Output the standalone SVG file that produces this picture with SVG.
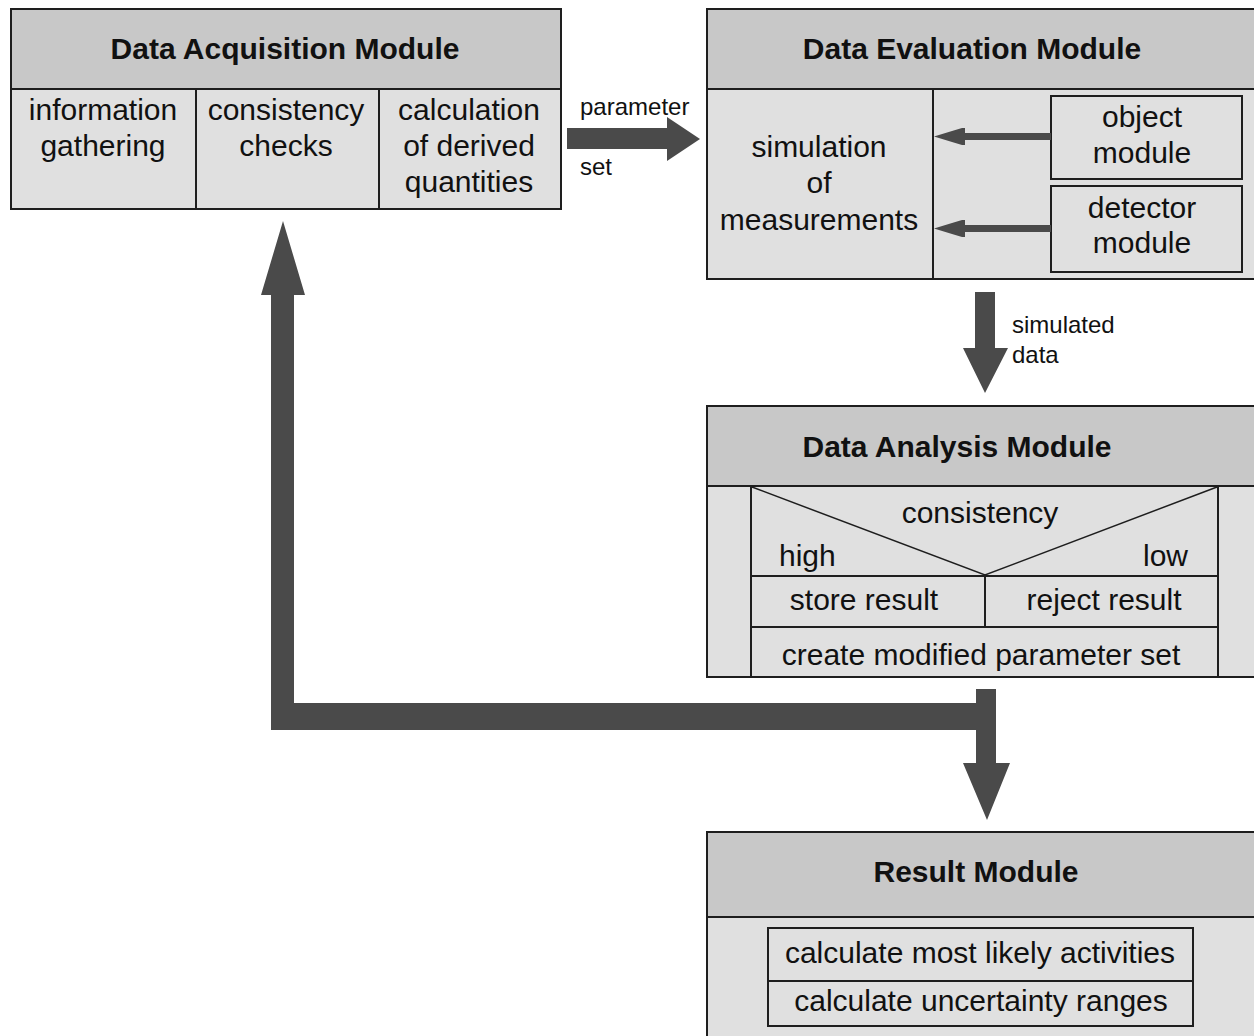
<svg xmlns="http://www.w3.org/2000/svg" width="1254" height="1036" viewBox="0 0 1254 1036">
  <style>
    .box { fill: #e0e0e0; stroke: #1e1e1e; stroke-width: 2; }
    .head { fill: #c8c8c8; stroke: #1e1e1e; stroke-width: 2; }
    .ln { stroke: #1e1e1e; stroke-width: 2; fill: none; }
    .thin { stroke: #1e1e1e; stroke-width: 1.5; fill: none; }
    .arrow { fill: #4a4a4a; stroke: none; }
    text { font-family: "Liberation Sans", Arial, sans-serif; fill: #111; }
    .title { font-size: 30px; font-weight: bold; text-anchor: middle; }
    .t { font-size: 30px; text-anchor: middle; }
    .tl { font-size: 30px; }
    .lab { font-size: 24px; }
  </style>
  <rect width="1254" height="1036" fill="#ffffff"/>

  <!-- Data Acquisition Module -->
  <g id="data-acquisition">
    <rect class="box" x="11" y="9" width="550" height="200"/>
    <rect class="head" x="11" y="9" width="550" height="80"/>
    <line class="ln" x1="196" y1="89" x2="196" y2="209"/>
    <line class="ln" x1="379" y1="89" x2="379" y2="209"/>
    <text class="title" x="285" y="59">Data Acquisition Module</text>
    <text class="t" x="103" y="120">information</text>
    <text class="t" x="103" y="156">gathering</text>
    <text class="t" x="286" y="120">consistency</text>
    <text class="t" x="286" y="156">checks</text>
    <text class="t" x="469" y="120">calculation</text>
    <text class="t" x="469" y="156">of derived</text>
    <text class="t" x="469" y="192">quantities</text>
  </g>

  <!-- Data Evaluation Module -->
  <g id="data-evaluation">
    <rect class="box" x="707" y="9" width="560" height="270"/>
    <rect class="head" x="707" y="9" width="560" height="80"/>
    <line class="ln" x1="933" y1="89" x2="933" y2="279"/>
    <text class="title" x="972" y="59">Data Evaluation Module</text>
    <text class="t" x="819" y="157">simulation</text>
    <text class="t" x="819" y="193">of</text>
    <text class="t" x="819" y="230">measurements</text>
  </g>
  <g id="object-module">
    <rect class="box" x="1051" y="96" width="191" height="83"/>
    <text class="t" x="1142" y="127">object</text>
    <text class="t" x="1142" y="163">module</text>
  </g>
  <g id="detector-module">
    <rect class="box" x="1051" y="186" width="191" height="86"/>
    <text class="t" x="1142" y="218">detector</text>
    <text class="t" x="1142" y="253">module</text>
  </g>

  <!-- Data Analysis Module -->
  <g id="data-analysis">
    <rect class="box" x="707" y="406" width="560" height="271"/>
    <rect class="head" x="707" y="406" width="560" height="80"/>
    <line class="ln" x1="751" y1="486" x2="751" y2="677"/>
    <line class="ln" x1="1218" y1="486" x2="1218" y2="677"/>
    <polyline class="thin" points="752,487 985,575 1217,487"/>
    <line class="ln" x1="751" y1="576" x2="1218" y2="576"/>
    <line class="ln" x1="985" y1="576" x2="985" y2="627"/>
    <line class="ln" x1="751" y1="627" x2="1218" y2="627"/>
    <text class="title" x="957" y="457">Data Analysis Module</text>
    <text class="t" x="980" y="523">consistency</text>
    <text class="tl" x="779" y="566">high</text>
    <text class="tl" x="1188" y="566" text-anchor="end">low</text>
    <text class="t" x="864" y="610">store result</text>
    <text class="t" x="1104" y="610">reject result</text>
    <text class="t" x="981" y="665">create modified parameter set</text>
  </g>

  <!-- Result Module -->
  <g id="result">
    <rect class="box" x="707" y="832" width="560" height="220"/>
    <rect class="head" x="707" y="832" width="560" height="85"/>
    <rect class="ln" x="768" y="928" width="425" height="53"/>
    <rect class="ln" x="768" y="981" width="425" height="45"/>
    <text class="title" x="976" y="882">Result Module</text>
    <text class="t" x="980" y="963">calculate most likely activities</text>
    <text class="t" x="981" y="1011">calculate uncertainty ranges</text>
  </g>

  <!-- Connectors -->
  <g id="connectors">
    <!-- parameter set -->
    <polygon class="arrow" points="567,128 667,128 667,117 700,139 667,161 667,149 567,149"/>
    <text class="lab" x="580" y="115">parameter</text>
    <text class="lab" x="580" y="175">set</text>

    <!-- object / detector inputs -->
    <polygon class="arrow" points="934,136.5 952,131 962,128 965,128 965,133 1051,133 1051,140 965,140 965,145 962,145 952,142"/>
    <polygon class="arrow" points="934,228.5 952,223 962,220 965,220 965,225 1051,225 1051,232 965,232 965,237 962,237 952,234"/>

    <!-- simulated data -->
    <polygon class="arrow" points="975,292 995,292 995,348 1008,348 985,393 963,348 975,348"/>
    <text class="lab" x="1012" y="333">simulated</text>
    <text class="lab" x="1012" y="363">data</text>

    <!-- feedback loop and result path -->
    <polygon class="arrow" points="261,295 283,221 305,295 294,295 294,703 976,703 976,689 996,689 996,763 1010,763 987,820 963,763 976,763 976,730 271,730 271,295"/>
  </g>
</svg>
